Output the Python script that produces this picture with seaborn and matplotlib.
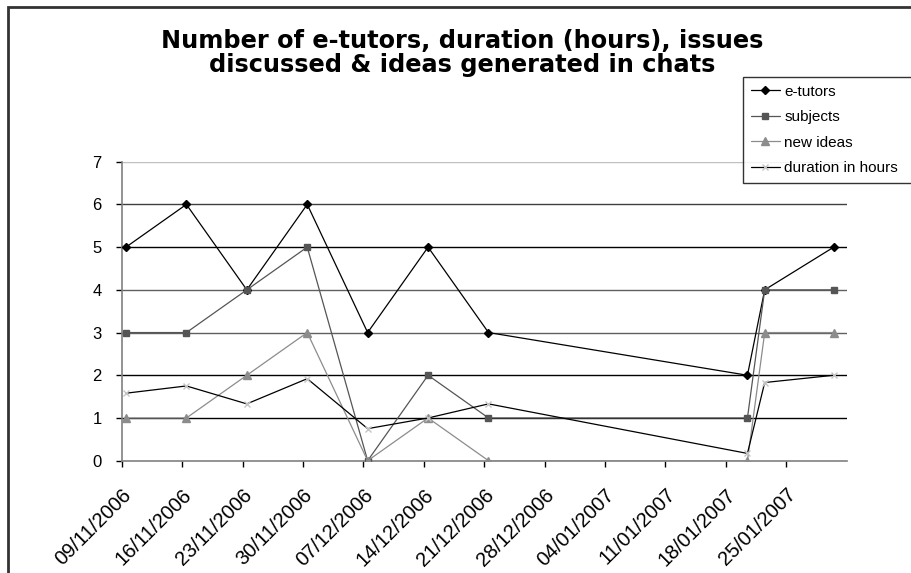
import pandas as pd
import matplotlib
matplotlib.use("Agg")
import matplotlib.pyplot as plt
import matplotlib.transforms as mtransforms
from matplotlib.lines import Line2D
from matplotlib.patches import Rectangle
import seaborn as sns

# chat dates and the four series
dates = ['09/11/2006', '16/11/2006', '23/11/2006', '30/11/2006', '07/12/2006',
         '14/12/2006', '21/12/2006', '20/01/2007', '22/01/2007', '30/01/2007']
e_tutors = [5, 6, 4, 6, 3, 5, 3, 2, 4, 5]
subjects = [3, 3, 4, 5, 0, 2, 1, 1, 4, 4]
new_ideas = [1, 1, 2, 3, 0, 1, 0, 0, 3, 3]
duration = [1.58, 1.75, 1.33, 1.92, 0.75, 1.0, 1.33, 0.17, 1.83, 2.0]

tick_dates = ['09/11/2006', '16/11/2006', '23/11/2006', '30/11/2006', '07/12/2006',
              '14/12/2006', '21/12/2006', '28/12/2006', '04/01/2007', '11/01/2007',
              '18/01/2007', '25/01/2007']
y_ticks = [0, 1, 2, 3, 4, 5, 6, 7]

title = 'Number of e-tutors, duration (hours), issues\ndiscussed & ideas generated in chats'

df = pd.DataFrame({
    'date': pd.to_datetime(dates, format='%d/%m/%Y') + pd.Timedelta(hours=12),
    'e-tutors': e_tutors,
    'subjects': subjects,
    'new ideas': new_ideas,
    'duration in hours': duration,
})

sns.set_style('white')
plt.rcParams['font.family'] = ['Liberation Sans', 'DejaVu Sans']
plt.rcParams['text.color'] = 'black'
plt.rcParams['xtick.color'] = 'black'
plt.rcParams['ytick.color'] = 'black'

fig = plt.figure(figsize=(9.12, 5.73), dpi=100)
ax = fig.add_axes([0.1334, 0.196, 0.795, 0.5218])

# series styling: (line colour, marker, marker size, marker colour)
styles = {
    'e-tutors': ('black', 'D', 4.5, 'black'),
    'subjects': ('#555555', 's', 4.8, '#555555'),
    'new ideas': ('#8c8c8c', '^', 5.5, '#8c8c8c'),
    'duration in hours': ('black', 'x', 5, '#c4c4c4'),
}

for name, (lc, mk, ms, mc) in styles.items():
    sns.lineplot(data=df, x='date', y=name, ax=ax, color=lc, linewidth=0.9,
                 marker=mk, markersize=ms, markerfacecolor=mc,
                 markeredgecolor=mc, markeredgewidth=1.0, zorder=3)

ax.set_xlim(pd.Timestamp('2006-11-09'), pd.Timestamp('2007-02-01'))
ax.set_ylim(0, 7)
ax.set_xlabel('')
ax.set_ylabel('')

ticks = pd.to_datetime(tick_dates, format='%d/%m/%Y')
ax.set_xticks(ticks)
ax.set_xticklabels(tick_dates, rotation=45, ha='right', rotation_mode='anchor',
                   fontsize=14.5)
shift = mtransforms.ScaledTranslation(-5 / 100, 0, fig.dpi_scale_trans)
for lbl in ax.get_xticklabels():
    lbl.set_transform(lbl.get_transform() + shift)
ax.set_yticks(y_ticks)
ax.set_yticklabels([str(v) for v in y_ticks], fontsize=12)
ax.tick_params(axis='both', which='major', direction='out', length=4.5, width=1,
               color='black', bottom=True, left=True)
ax.tick_params(axis='x', pad=13)
ax.tick_params(axis='y', pad=10)

# horizontal gridlines
grid_cols = {1: 'black', 2: 'black', 3: '#606060', 4: '#606060',
             5: 'black', 6: '#404040', 7: '#c0c0c0'}
for v, c in grid_cols.items():
    ax.axhline(v, color=c, linewidth=1.0, zorder=1)

for s in ['top', 'right']:
    ax.spines[s].set_visible(False)
for s in ['left', 'bottom']:
    ax.spines[s].set_color('#808080')
    ax.spines[s].set_linewidth(1.2)

fig.text(0.507, 0.907, title, ha='center', va='center', fontsize=17.3,
         fontweight='bold', family='DejaVu Sans', linespacing=1.0, color='black')

handles = []
for name, (lc, mk, ms, mc) in styles.items():
    handles.append(Line2D([0], [0], color=lc, linewidth=0.9, marker=mk,
                          markersize=ms, markerfacecolor=mc, markeredgecolor=mc))
leg = fig.legend(handles, list(styles.keys()), loc='upper left',
                 bbox_to_anchor=(743 / 912, 1 - 77 / 573, 0.2, 0.0),
                 mode='expand', fontsize=11, frameon=True, fancybox=False,
                 handlelength=1.9, handletextpad=0.3, labelspacing=0.75,
                 borderpad=0.5, borderaxespad=0)
leg.get_frame().set_edgecolor('black')
leg.get_frame().set_linewidth(1.0)

# outer chart border (cut at right and bottom)
fig.patches.append(Rectangle((8.5 / 912, -0.1), 1.2, 1.1 - 7.5 / 573,
                             transform=fig.transFigure, fill=False,
                             edgecolor='#333333', linewidth=2))

fig.savefig('out.png', dpi=100)
